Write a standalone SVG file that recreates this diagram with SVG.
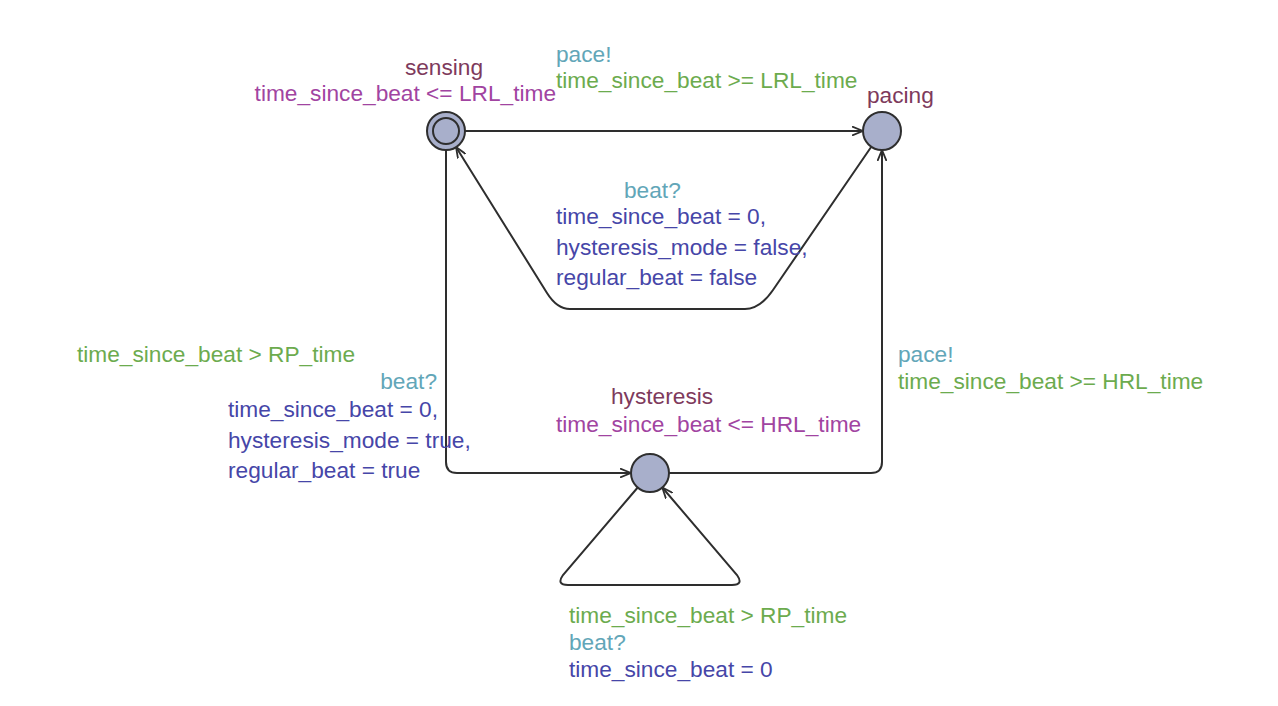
<svg xmlns="http://www.w3.org/2000/svg" width="1278" height="706" viewBox="0 0 1278 706">
<defs>
<style>
text{font-family:"Liberation Sans",Arial,sans-serif;font-size:22.7px}
.loc{fill:#7e3a5c}
.inv{fill:#a144a1}
.sync{fill:#62a6b8}
.guard{fill:#6cab4e}
.upd{fill:#4646a8}
.node{fill:#a8afcb;stroke:#2e2e2e;stroke-width:2}
.edge{fill:none;stroke:#2e2e2e;stroke-width:2}
</style>
<marker id="arr" viewBox="0 0 12 10" refX="11" refY="5" markerWidth="12" markerHeight="10" markerUnits="userSpaceOnUse" orient="auto">
<path d="M0,0.5 L11,5 L0,9.5" fill="none" stroke="#2e2e2e" stroke-width="1.8"/>
</marker>
</defs>
<rect width="1278" height="706" fill="#ffffff"/>
<g id="connectors">
<path class="edge" d="M465,131 L863,131" marker-end="url(#arr)"/>
<path class="edge" d="M871.3,146.7 L773,290 Q760,309 745,309 L570,309 Q557,309 547,293 L456,147" marker-end="url(#arr)"/>
<path class="edge" d="M446,150 L446,462 Q446,473 457,473 L631,473" marker-end="url(#arr)"/>
<path class="edge" d="M669,473 L871,473 Q882,473 882,462 L882,150" marker-end="url(#arr)"/>
<path class="edge" d="M637.7,487.5 L563,575 Q556,585 568,585 L732,585 Q744,585 737,575 L662.3,487.5" marker-end="url(#arr)"/>
</g>
<g id="edge-labels">
<text class="sync" x="556" y="62">pace!</text>
<text class="guard" x="556" y="88">time_since_beat &gt;= LRL_time</text>
<text class="sync" x="624" y="198">beat?</text>
<text class="upd" x="556" y="224">time_since_beat = 0,</text>
<text class="upd" x="556" y="255">hysteresis_mode = false,</text>
<text class="upd" x="556" y="285">regular_beat = false</text>
<text class="guard" x="77" y="362">time_since_beat &gt; RP_time</text>
<text class="sync" x="437" y="389" text-anchor="end">beat?</text>
<text class="upd" x="228" y="417">time_since_beat = 0,</text>
<text class="upd" x="228" y="448">hysteresis_mode = true,</text>
<text class="upd" x="228" y="478">regular_beat = true</text>
<text class="sync" x="898" y="362">pace!</text>
<text class="guard" x="898" y="389">time_since_beat &gt;= HRL_time</text>
<text class="guard" x="569" y="623">time_since_beat &gt; RP_time</text>
<text class="sync" x="569" y="650">beat?</text>
<text class="upd" x="569" y="677">time_since_beat = 0</text>
</g>
<g id="sensing">
<circle class="node" cx="446" cy="131" r="19"/>
<circle class="node" cx="446" cy="131" r="13"/>
<text class="loc" x="444" y="75" text-anchor="middle">sensing</text>
<text class="inv" x="556" y="101" text-anchor="end">time_since_beat &lt;= LRL_time</text>
</g>
<g id="pacing">
<circle class="node" cx="882" cy="131" r="19"/>
<text class="loc" x="867" y="103">pacing</text>
</g>
<g id="hysteresis">
<circle class="node" cx="650" cy="473" r="19"/>
<text class="loc" x="611" y="404">hysteresis</text>
<text class="inv" x="556" y="432">time_since_beat &lt;= HRL_time</text>
</g>
</svg>
